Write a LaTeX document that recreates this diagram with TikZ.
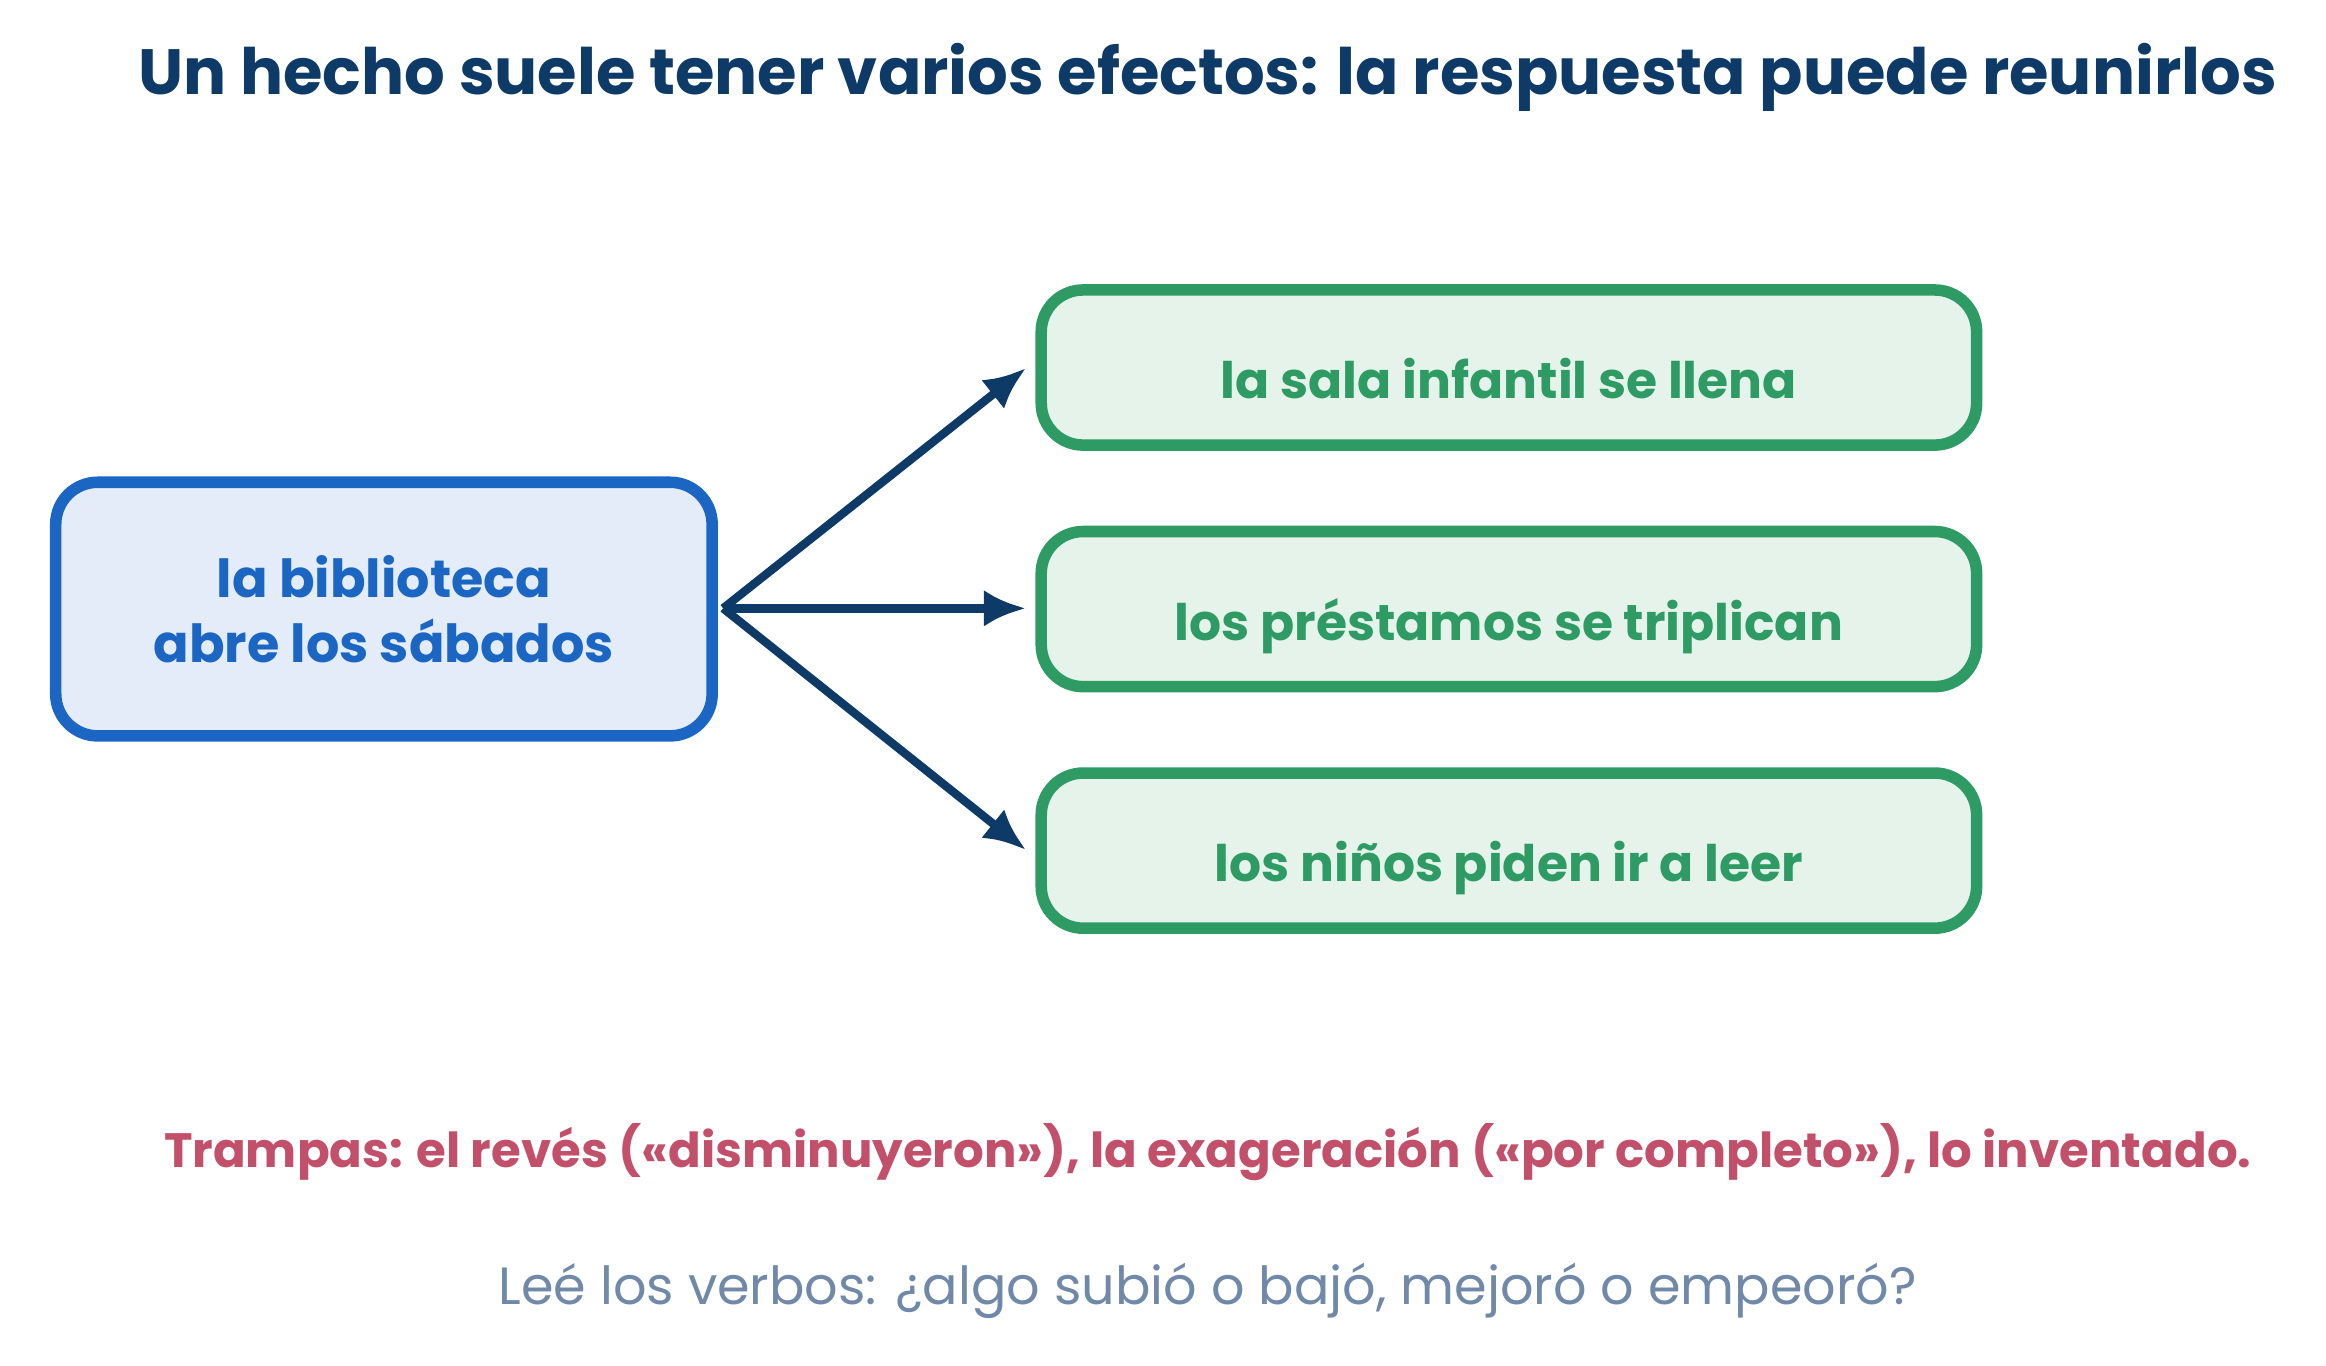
\documentclass[tikz,border=0pt]{standalone}
\usepackage{fontspec}
\setmainfont{Poppins}
\usetikzlibrary{arrows.meta, positioning}
\definecolor{navy}{HTML}{0D3A66}
\definecolor{srcblue}{HTML}{1A66C2}
\definecolor{srcfill}{HTML}{E3ECF8}
\definecolor{effgreen}{HTML}{2E9B64}
\definecolor{efffill}{HTML}{E5F3EA}
\definecolor{trapred}{HTML}{C2506A}
\definecolor{hintgray}{HTML}{7089A8}

\tikzset{
  source/.style={draw=srcblue, fill=srcfill, line width=2.2pt, rounded corners=8pt,
    minimum width=4.40cm, minimum height=1.70cm, align=center,
    text=srcblue, font=\bfseries\fontsize{10}{12.5}\selectfont},
  effect/.style={draw=effgreen, fill=efffill, line width=2.2pt, rounded corners=8pt,
    minimum width=6.27cm, minimum height=1.04cm, text=effgreen,
    text height=0.52cm, text depth=0.1cm,
    font=\bfseries\fontsize{9.6}{12}\selectfont},
  link/.style={-{Latex[length=8pt,width=7pt]}, navy, line width=1.6pt},
}

\begin{document}
\begin{tikzpicture}[x=0.01cm, y=-0.01cm]

\useasboundingbox (0,0) rectangle (1560,916);

% title
\node[text=navy, font=\bfseries\fontsize{12.2}{15}\selectfont] (title) at (810,52)
  {Un hecho suele tener varios efectos: la respuesta puede reunirlos};

% cause and effects
\node[source] (cause) at (257.5,408.5) {la biblioteca\\abre los sábados};
\node[effect] (sala) at (1012,246.5) {la sala infantil se llena};
\node[effect] (prest) at (1012,408.5) {los préstamos se triplican};
\node[effect] (ninos) at (1012,570.5) {los niños piden ir a leer};

\coordinate (fork) at (485,408);
\coordinate (tipA) at (688,247);
\coordinate (tipB) at (688,408);
\coordinate (tipC) at (688,570);

\draw[link] (fork) -- (tipA);
\draw[link] (fork) -- (tipB);
\draw[link] (fork) -- (tipC);

% notes
\node[text=trapred, font=\bfseries\fontsize{9.2}{11}\selectfont] (traps) at (810,773)
  {Trampas: el revés («disminuyeron»), la exageración («por completo»), lo inventado.};
\node[text=hintgray, font=\fontsize{10}{13}\selectfont] (hint) at (810,866)
  {Leé los verbos: ¿algo subió o bajó, mejoró o empeoró?};

\end{tikzpicture}
\end{document}
